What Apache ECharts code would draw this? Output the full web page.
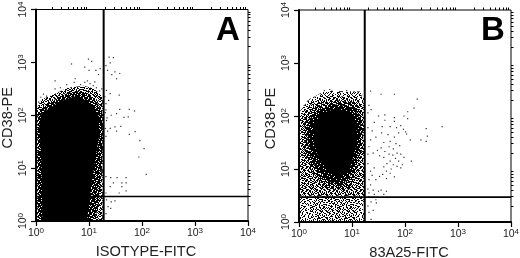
<!DOCTYPE html>
<html><head><meta charset="utf-8">
<style>html,body{margin:0;padding:0;background:#fff}#c{width:520px;height:258px}</style>
<script src="https://cdn.jsdelivr.net/npm/echarts@6/dist/echarts.min.js"></script></head>
<body><div id="c"></div>
<script>
// All cloud values are log10 decades: [log FITC, log CD38-PE]
const decadeTicks = [1, 10, 100, 1000, 10000];
const minorTicks = [2,3,4,5,6,7,8,9,20,30,40,50,60,70,80,90,200,300,400,500,600,700,800,900,2000,3000,4000,5000,6000,7000,8000,9000];
const panelLetters = ['A', 'B'];
const xNames = ['ISOTYPE-FITC', '83A25-FITC'];
const yName = 'CD38-PE';
const gateXA = 18.9, gateYA = 2.9, gateXB = 17.4, gateYB = 2.95;

// unresolved regions of the clouds: outlines in decades, by how dark the region reads
const coreA = [[.12,0],[.11,.65],[.1,1.21],[.06,1.78],[.1,2.03],[.28,2.15],[.5,2.28],[.74,2.36],[.95,2.28],[1.08,2.16],[1.19,1.97],[1.19,1.6],[1.14,1.3],[1.1,1.03],[1.04,.65],[1.0,.27],[.96,0]];
const denseA = [[.03,0],[.03,2.0],[.15,2.17],[.3,2.27],[.6,2.42],[.8,2.46],[1.0,2.4],[1.18,2.2],[1.26,2.0],[1.26,1.5],[1.24,.9],[1.18,.3],[1.1,0]];
const looseA = [[0,0],[0,2.1],[.1,2.3],[.3,2.38],[.6,2.52],[.9,2.56],[1.1,2.5],[1.26,2.35],[1.26,0]];
const haloB = [[.01,0],[.01,2.08],[.2,2.32],[.5,2.47],[1.15,2.46],[1.24,2.34],[1.24,0]];
const ringB = [[.04,.5],[.04,1.98],[.22,2.24],[.55,2.38],[1.08,2.36],[1.23,2.14],[1.23,.5]];
const midB = [[.1,1.3],[.1,1.95],[.28,2.18],[.7,2.3],[1.08,2.24],[1.21,2.0],[1.2,1.4],[1.09,.95],[.96,.62],[.5,.62],[.25,.95]];
const denseB = [[.16,1.9],[.34,2.1],[.7,2.22],[1.04,2.16],[1.17,1.9],[1.14,1.4],[1.0,.9],[.8,.68],[.5,.78],[.28,1.1],[.16,1.5]];
const coreB = [[.28,1.85],[.44,2.05],[.7,2.14],[.98,2.07],[1.09,1.8],[1.07,1.4],[.96,1.0],[.76,.84],[.54,.97],[.36,1.22],[.28,1.5]];
const lowBandB = [[.3,0],[.3,.5],[1.08,.5],[1.08,0]];

const sparseA = [[.67,2.97],[.99,3.06],[1.05,3.02],[.92,2.91],[1.0,2.85],[1.13,2.85],[1.21,2.88],[1.18,2.77],[.74,2.69],[.36,2.65],[.97,2.65],[1.11,2.63],[1.38,3.1],[1.46,3.09],[1.32,2.94],[1.4,2.99],[1.35,2.85],[1.49,2.82],[1.58,2.79],[1.43,2.77],[1.52,2.69],[1.33,2.47],[1.57,2.38],[1.4,2.41],[1.32,2.22],[1.37,2.28],[1.58,2.11],[1.76,2.11],[1.86,2.08],[1.52,2.03],[1.42,2.0],[1.74,1.97],[1.66,1.96],[1.33,1.9],[1.6,1.79],[1.49,1.78],[1.4,1.75],[1.52,1.7],[1.76,1.64],[1.87,1.69],[1.96,1.52],[2.04,1.37],[1.94,1.21],[2.08,.88],[1.41,.82],[1.53,.82],[1.7,.82],[1.62,.72],[1.46,.72],[1.7,.72],[1.32,.84],[1.4,.65],[1.62,.65],[1.7,.57],[1.32,.53],[1.57,.53],[1.33,.4],[1.49,.38],[1.42,.36],[1.36,.27],[1.41,.24],[1.32,.14],[1.32,2.1],[1.34,1.95],[1.31,1.75],[1.35,1.7],[1.32,1.6],[1.3,2.35],[1.31,2.05]];
const fringeDotsA = [[.14,2.4],[.2,2.36],[.36,2.5],[.46,2.52],[.58,2.58],[.72,2.62],[.84,2.58],[.92,2.62],[1.02,2.6],[1.08,2.56],[1.14,2.52],[1.2,2.46],[1.24,2.5],[.05,2.25],[.09,2.34]];

const sparseB = [[1.35,2.47],[1.55,2.41],[1.8,2.41],[2.23,2.32],[2.17,2.15],[1.32,2.2],[1.36,2.12],[1.3,2.06],[1.5,2.0],[1.62,2.02],[1.62,1.92],[1.42,1.88],[1.57,1.8],[1.8,1.97],[1.8,1.9],[1.98,2.0],[2.05,2.08],[2.05,1.95],[1.72,1.8],[1.84,1.78],[1.92,1.82],[1.97,1.75],[2.01,1.7],[1.88,1.68],[2.03,1.66],[2.4,1.76],[2.7,1.8],[2.42,1.62],[2.3,1.55],[2.4,1.52],[2.1,1.55],[1.68,1.65],[1.8,1.6],[1.56,1.68],[1.38,1.72],[1.3,1.78],[1.45,1.6],[1.35,1.55],[1.6,1.5],[1.72,1.52],[1.83,1.48],[1.9,1.44],[1.7,1.42],[1.78,1.38],[1.55,1.4],[1.62,1.33],[1.48,1.35],[1.4,1.3],[1.32,1.42],[1.3,1.28],[1.52,1.25],[1.6,1.22],[1.7,1.28],[1.77,1.26],[1.85,1.3],[1.92,1.28],[1.98,1.22],[1.82,1.2],[1.72,1.15],[1.88,1.15],[1.66,1.1],[1.78,1.08],[1.85,1.05],[1.95,1.08],[2.12,1.15],[1.92,1.02],[1.74,1.0],[1.6,1.04],[1.65,.96],[1.72,.92],[1.58,.9],[1.8,.85],[1.65,.82],[1.52,.86],[1.42,1.02],[1.35,.96],[1.3,1.1],[1.38,.88],[1.32,.8],[1.45,.8],[1.35,.7],[1.3,.62],[1.4,.6],[1.5,.58],[1.32,.55],[1.42,.52],[1.55,.6],[1.6,.52],[1.65,.58],[1.32,.48],[1.36,.38],[1.45,.42],[1.3,.3],[1.4,.22],[1.46,.36],[1.36,.05],[1.32,.18]];
const fringeDotsB = [[.1,2.2],[.16,2.28],[.22,2.22],[.3,2.36],[.4,2.42],[.48,2.48],[.62,2.47],[.75,2.44],[.9,2.48],[1.04,2.46],[1.12,2.44],[1.18,2.38],[.58,2.5],[.82,2.46]];

// stipple texture for the unresolved regions: cell shown when its digit is below the region's level
const stipple = [
'372915806473920158637402951','815063279148605327914860532','246781930572481906372159048','903514862097316248509731624','571298043685720194368572019','468031597214963508142796350','129750386429108753642910875','750842961358247096135824709','392617405891536284970153628','084596213740962817325096481','613270849562380147956238014','952048361789014562783101456','287391650427895306142789530','436805192364170925843617092','701924538016459738290164597','865179024693201847516932018','124630785902768351409276835','598713402856143079268514307','340265917438927610584392761','769481250316504892731650489','023957684172386405192738640','691402738590612974035906129','357864021943778120696437781'
];
const shade = {};
[3, 4, 5, 7, 8, 9].forEach(level => {
  const t = document.createElement('canvas');
  t.width = stipple[0].length; t.height = stipple.length;
  const ctx = t.getContext('2d');
  ctx.fillStyle = '#000';
  stipple.forEach((row, y) => [...row].forEach((d, x) => { if (+d < level) ctx.fillRect(x, y, 1, 1); }));
  shade[level] = {image: t, repeat: 'repeat'};
});

const toValues = list => list.map(p => [Math.pow(10, p[0]), Math.pow(10, p[1])]);
const majorLabel = v => '{b|10}{s|' + Math.round(Math.log10(v)) + '}';
const font = '"Liberation Sans", Arial, sans-serif';
const grids = [{left: 36, top: 9.5, width: 212, height: 211.5}, {left: 299, top: 10, width: 212, height: 212}];
const rich = {b: {fontSize: 10.5, fontFamily: font, color: '#222', lineHeight: 13}, s: {fontSize: 8, fontFamily: font, color: '#222', verticalAlign: 'top', lineHeight: 13}};

const xAxis = [], yAxis = [], series = [];
function axisPair(list, dim, g, name) {
  const base = {type: 'log', logBase: 10, min: 1, max: 10000, gridIndex: g, splitLine: {show: false}, minorTick: {show: false}};
  list.push(Object.assign({}, base, {
    name, nameLocation: 'middle', nameGap: dim === 'x' ? 23 : 21,
    nameTextStyle: {fontSize: 14.6, fontFamily: font, color: '#222', padding: dim === 'x' ? [0,0,0,8] : [0,5,0,0]},
    axisLine: {show: true, lineStyle: {color: '#000', width: 2}},
    axisTick: {show: true, length: 5, lineStyle: {color: '#000', width: 1.2}, customValues: decadeTicks},
    axisLabel: {show: true, margin: 6, rotate: dim === 'x' ? 0 : 90, formatter: majorLabel, rich, customValues: decadeTicks, hideOverlap: false, showMinLabel: true, showMaxLabel: true}
  }));
  list.push(Object.assign({}, base, {
    axisLine: {show: false},
    axisTick: {show: true, length: 2.5, lineStyle: {color: '#000', width: 1}, customValues: minorTicks},
    axisLabel: {show: false}
  }));
}
function polygon(points, fill, g) {
  series.push({type: 'custom', coordinateSystem: 'cartesian2d', xAxisIndex: g * 2, yAxisIndex: g * 2, silent: true, clip: true, z: 1,
    data: [0], encode: {x: [], y: []},
    renderItem: (params, api) => ({type: 'polygon', shape: {points: toValues(points).map(p => api.coord(p))}, style: {fill}})});
}
function dots(points, size, g) {
  series.push({type: 'scatter', xAxisIndex: g * 2, yAxisIndex: g * 2, data: toValues(points), symbol: 'rect', symbolSize: size, large: false, silent: true, itemStyle: {color: '#000'}, z: 2, animation: false});
}
function gates(gx, gy, g) {
  series.push({type: 'line', xAxisIndex: g * 2, yAxisIndex: g * 2, data: [[gx, 1], [gx, 10000]], symbol: 'none', lineStyle: {color: '#000', width: 2}, z: 3, silent: true});
  series.push({type: 'line', xAxisIndex: g * 2, yAxisIndex: g * 2, data: [[1, gy], [10000, gy]], symbol: 'none', lineStyle: {color: '#000', width: 1.6}, z: 3, silent: true});
}
[0, 1].forEach(g => { axisPair(xAxis, 'x', g, xNames[g]); axisPair(yAxis, 'y', g, yName); });

polygon(looseA, shade[5], 0);
polygon(denseA, shade[8], 0);
polygon(coreA, '#000', 0);
dots(fringeDotsA, 1.2, 0);
dots(sparseA, 1.2, 0);
gates(gateXA, gateYA, 0);

polygon(haloB, shade[3], 1);
polygon(lowBandB, shade[4], 1);
polygon(ringB, shade[5], 1);
polygon(midB, shade[7], 1);
polygon(denseB, shade[9], 1);
polygon(coreB, '#000', 1);
dots(fringeDotsB, 1.2, 1);
dots(sparseB, 1.2, 1);
gates(gateXB, gateYB, 1);

const chart = echarts.init(document.getElementById('c'), null, {renderer: 'canvas'});
chart.setOption({
  animation: false, backgroundColor: '#fff',
  title: [
    {text: panelLetters[0], left: 216, top: 14, textStyle: {fontFamily: font, fontWeight: 'bold', fontSize: 33, color: '#000'}, padding: 0},
    {text: panelLetters[1], left: 481, top: 14, textStyle: {fontFamily: font, fontWeight: 'bold', fontSize: 33, color: '#000'}, padding: 0}
  ],
  grid: grids.map(g => Object.assign({show: true, outerBoundsMode: 'none', borderColor: '#000', borderWidth: 1, backgroundColor: 'transparent'}, g)),
  xAxis: xAxis.map((a, i) => Object.assign(a, {gridIndex: i < 2 ? 0 : 1})),
  yAxis: yAxis.map((a, i) => Object.assign(a, {gridIndex: i < 2 ? 0 : 1})),
  series
});
</script></body></html>
